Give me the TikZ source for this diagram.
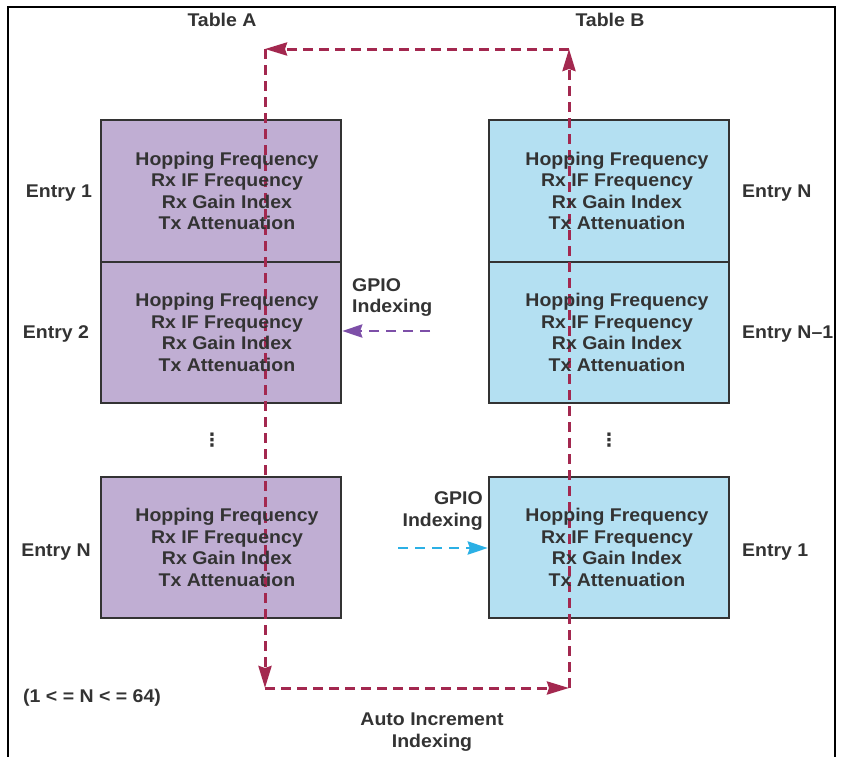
\documentclass[tikz,border=0pt]{standalone}
\usepackage{fontspec}
\setmainfont{Liberation Sans}[FakeStretch=1.06]
\newfontfamily\dejavu{DejaVu Sans}
\usetikzlibrary{arrows.meta}
\definecolor{txt}{HTML}{333333}
\definecolor{fillA}{HTML}{C0AED3}
\definecolor{fillB}{HTML}{B4E0F2}
\definecolor{loopred}{HTML}{A3284F}
\definecolor{gpiop}{HTML}{7D4FA8}
\definecolor{gpioc}{HTML}{2BB0E5}
\tikzset{
  lbl/.style={font=\bfseries\fontsize{18.4}{21.5}\selectfont, text=txt, inner sep=0pt, align=center},
  tbox/.style={draw=txt, line width=2.4pt, minimum width=240pt, minimum height=141.5pt, inner sep=0pt},
  boxA/.style={tbox, fill=fillA},
  boxB/.style={tbox, fill=fillB},
  looparrow/.style={draw=loopred, line width=3pt, dash pattern=on 10pt off 6pt,
    -{Stealth[length=22pt,width=13pt,inset=2pt]}},
  gpioarrow/.style={line width=2.8pt, dash pattern=on 10pt off 7pt,
    -{Stealth[length=20pt,width=13pt,inset=2pt]}},
  frame/.style={draw=black, line width=1.3pt}
}
\begin{document}
\begin{tikzpicture}[x=1pt,y=-1pt]
\useasboundingbox (0,0) rectangle (841,756);
\draw[frame] (8,7) rectangle (835,800);

% boxes
\node[boxA] (a1) at (221,191) {};
\node[boxA] (a2) at (221,332.5) {};
\node[boxA] (a3) at (221,547.5) {};
\node[boxB] (b1) at (609,191) {};
\node[boxB] (b2) at (609,332.5) {};
\node[boxB] (b3) at (609,547.5) {};

% loop
\coordinate (c1) at (265,49);
\coordinate (c2) at (569,49);
\coordinate (c3) at (569,688);
\coordinate (c4) at (265,688);
\draw[looparrow] (c2) -- (c1);
\draw[looparrow] (c1) -- (c4);
\draw[looparrow] (c4) -- (c3);
\draw[looparrow] (c3) -- (c2);

% box texts
\foreach \b/\s in {a1/6,a2/6,a3/6,b1/8,b2/8,b3/8}{
  \node[lbl] (t\b) at ([xshift=\s pt]\b.center) {Hopping Frequency\\Rx IF Frequency\\Rx Gain Index\\Tx Attenuation};
}

% titles
\node[lbl] (ta) at (222,20) {Table A};
\node[lbl] (tb) at (610,20) {Table B};

% entries
\node[lbl] (ea1) at (59,193) {Entry 1};
\node[lbl] (ea2) at (56,334) {Entry 2};
\node[lbl] (ea3) at (56,552) {Entry N};
\node[lbl, anchor=west] (eb1) at (742,193) {Entry N};
\node[lbl, anchor=west] (eb2) at (742,334) {Entry N--1};
\node[lbl, anchor=west] (eb3) at (742,552) {Entry 1};

% dots
\node[lbl] (da) at (212,440) {\dejavu ⋮};
\node[lbl] (db) at (609,440) {\dejavu ⋮};

% GPIO arrows
\node[lbl, align=left, anchor=west] (g1) at (352,297.5) {GPIO\\Indexing};
\coordinate (gp) at (430,331);
\draw[gpioarrow, draw=gpiop] (gp) -- (gp -| a2.east);
\node[lbl, align=right, anchor=east] (g2) at (483,511) {GPIO\\Indexing};
\coordinate (gc) at (398,548);
\draw[gpioarrow, draw=gpioc] (gc) -- (gc -| b3.west);

% bottom labels
\node[lbl] (auto) at (432,732) {Auto Increment\\Indexing};
\node[lbl, anchor=west] (range) at (23,698) {(1 < = N < = 64)};
\end{tikzpicture}
\end{document}
